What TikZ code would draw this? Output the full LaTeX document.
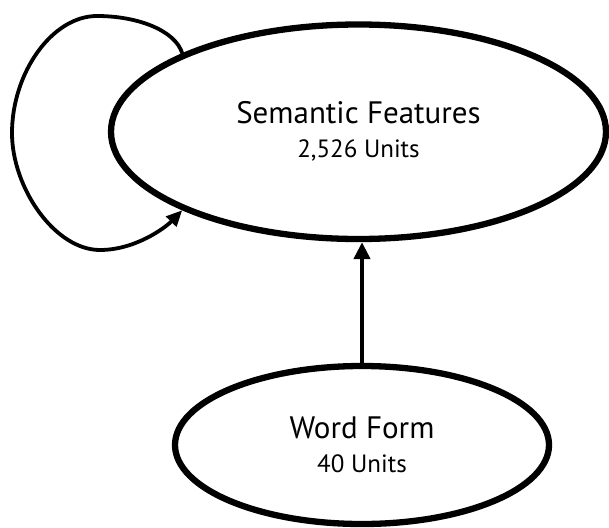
\documentclass[tikz,border=0pt]{standalone}
\usepackage{fontspec}
\setmainfont{PT Sans}
\usetikzlibrary{shapes.geometric,arrows.meta}
\tikzset{
  layer/.style={ellipse, draw, line width=6.3pt, inner sep=0pt, align=center, fill=white},
  bigtxt/.style={font=\fontsize{31}{34}\selectfont},
  conn/.style={line width=4.2pt, -{Triangle[length=17pt,width=16pt]}},
  loopconn/.style={line width=3.8pt, -{Triangle[length=16pt,width=14pt]}}
}
\newcommand{\unitline}[1]{{\fontsize{25}{34}\selectfont #1}}
\begin{document}
\begin{tikzpicture}[x=1pt,y=-1pt]
\useasboundingbox (0,0) rectangle (609,527);
\node[layer, minimum width=495pt, minimum height=214.5pt, bigtxt] (sf) at (358.5,131.75)
  {Semantic Features\\ \unitline{2,526 Units}};
\node[layer, minimum width=374pt, minimum height=158pt, bigtxt] (wf) at (362,445)
  {Word Form\\ \unitline{40 Units}};
\draw[conn] (wf.north) -- (wf.north |- sf.south);
\coordinate (lt) at (97,16);
\coordinate (ll) at (12,133);
\coordinate (lb) at (100,250);
\draw[loopconn] (sf.156) .. controls (175,30) and (137,16) .. (lt)
  .. controls (52,16) and (12,73) .. (ll)
  .. controls (12,188) and (55,250) .. (lb)
  .. controls (135,250) and (165,228) .. (sf.204);
\end{tikzpicture}
\end{document}
